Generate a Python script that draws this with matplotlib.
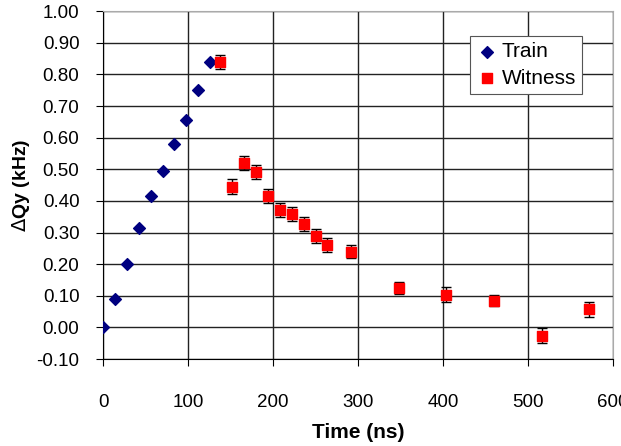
import matplotlib
matplotlib.use("Agg")
import matplotlib.pyplot as plt

plt.rcParams['font.family'] = ['Liberation Sans', 'DejaVu Sans']

# Train bunch
train_t = [0, 14, 28, 42, 56, 70, 84, 98, 112, 126]
train_dq = [0.00, 0.09, 0.20, 0.315, 0.415, 0.495, 0.58, 0.655, 0.75, 0.84]

# Witness bunch
witness_t = [138, 152, 166, 180, 194, 208, 222, 236, 250, 264, 292, 348, 404, 460, 516, 572]
witness_dq = [0.84, 0.445, 0.52, 0.49, 0.415, 0.37, 0.358, 0.328, 0.29, 0.26,
              0.24, 0.125, 0.103, 0.085, -0.026, 0.057]
witness_err = [0.022, 0.024, 0.022, 0.022, 0.022, 0.022, 0.022, 0.022, 0.022, 0.022,
               0.022, 0.018, 0.024, 0.018, 0.024, 0.024]

yticks = [-0.10, 0.00, 0.10, 0.20, 0.30, 0.40, 0.50, 0.60, 0.70, 0.80, 0.90, 1.00]
xticks = [0, 100, 200, 300, 400, 500, 600]

fig = plt.figure(figsize=(6.21, 4.46), dpi=100)
ax = fig.add_axes([0.166, 0.195, 0.821, 0.78])

ax.errorbar(witness_t, witness_dq, yerr=witness_err, fmt='none', ecolor='k',
            elinewidth=1, capsize=3.5, zorder=3)
ax.scatter(train_t, train_dq, marker='D', s=36, c='#000080', zorder=4, label='Train')
ax.scatter(witness_t, witness_dq, marker='s', s=58, c='#ff0000', zorder=4, label='Witness')

ax.set_xlim(0, 600)
ax.set_ylim(-0.10, 1.00)
ax.set_xticks(xticks)
ax.set_yticks(yticks)
ax.set_yticklabels([f"{v:.2f}" for v in yticks])
ax.tick_params(labelsize=13.5, direction='out', length=5)
ax.tick_params(axis='x', pad=20)
ax.tick_params(axis='y', pad=12)
ax.grid(True, color='#222222', lw=1)
ax.set_axisbelow(True)
for s in ['top', 'right']:
    ax.spines[s].set_color('#aaaaaa')

ax.set_xlabel('Time (ns)', fontsize=15, fontweight='bold', labelpad=9)
ax.set_ylabel(r'$\Delta$Qy (kHz)', fontsize=14, fontweight='bold', labelpad=3)

leg = ax.legend(loc='upper left', bbox_to_anchor=(0.72, 0.928), borderaxespad=0,
                fontsize=15, handletextpad=0.2, handlelength=1.0, borderpad=0.3,
                labelspacing=0.35, fancybox=False, framealpha=1, edgecolor='#555555')
leg.get_frame().set_linewidth(0.8)

fig.savefig('out.png', dpi=100)
